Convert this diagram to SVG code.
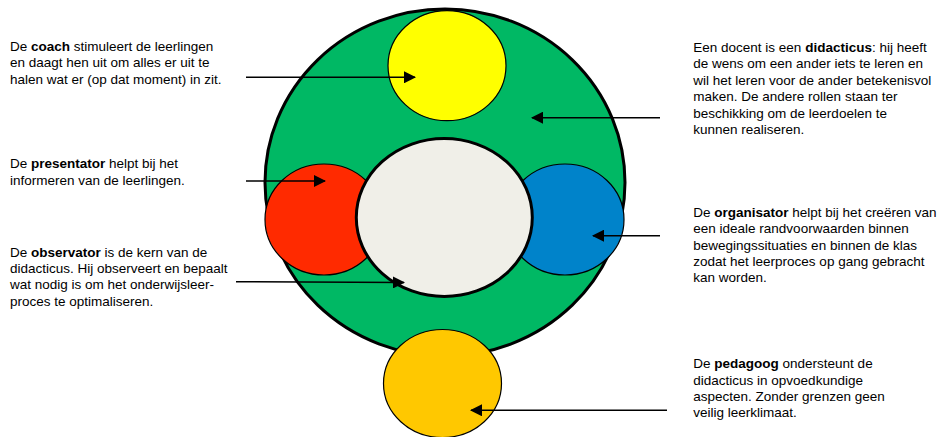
<svg xmlns="http://www.w3.org/2000/svg" width="940" height="437" viewBox="0 0 940 437">
<style>
text{font-family:"Liberation Sans",Arial,sans-serif;font-size:13.5px;fill:#000}
.b{font-weight:bold}
.c{stroke:#000;stroke-width:1.2}
.a{stroke:#000;stroke-width:1.6;fill:none;marker-end:url(#ah)}
</style>
<defs>
<marker id="ah" markerWidth="12" markerHeight="12" viewBox="0 0 12 12" refX="11" refY="6" orient="auto" markerUnits="userSpaceOnUse">
<path d="M0,0 L12,6 L0,12 Z" fill="#000"/>
</marker>
</defs>
<rect width="940" height="437" fill="#fff"/>
<g id="didacticus-circle"><ellipse cx="445" cy="182.5" rx="180" ry="173.5" fill="#00B864" stroke="#000" stroke-width="3"/></g>
<g id="coach-circle"><ellipse class="c" cx="447" cy="65.7" rx="59" ry="55" fill="#FFFF00"/></g>
<g id="presentator-circle"><ellipse class="c" cx="324" cy="219.5" rx="59" ry="55.5" fill="#FF2A00"/></g>
<g id="organisator-circle"><ellipse class="c" cx="565" cy="219.5" rx="59" ry="55.5" fill="#0083CA"/></g>
<g id="observator-circle"><ellipse cx="444.3" cy="217.5" rx="88" ry="79" fill="#F0EFE8" stroke="#000" stroke-width="3"/></g>
<g id="pedagoog-circle"><ellipse class="c" cx="442.5" cy="383.5" rx="59" ry="54" fill="#FFC800"/></g>
<g id="connectors">
<line class="a" x1="246" y1="77.3" x2="415" y2="77.3"/>
<line class="a" x1="660" y1="117.7" x2="532" y2="117.7"/>
<line class="a" x1="246" y1="181" x2="325" y2="181"/>
<line class="a" x1="660" y1="235.7" x2="593" y2="235.7"/>
<line class="a" x1="236" y1="281.7" x2="404" y2="282.5"/>
<line class="a" x1="667" y1="410.3" x2="471" y2="410.3"/>
</g>
<g id="coach-text">
<text x="10" y="50.7">De <tspan class="b">coach</tspan> stimuleert de leerlingen</text>
<text x="10" y="67.3">en daagt hen uit om alles er uit te</text>
<text x="10" y="84">halen wat er (op dat moment) in zit.</text>
</g>
<g id="presentator-text">
<text x="10" y="168.3">De <tspan class="b">presentator</tspan> helpt bij het</text>
<text x="10" y="185">informeren van de leerlingen.</text>
</g>
<g id="observator-text">
<text x="10" y="256.7">De <tspan class="b">observator</tspan> is de kern van de</text>
<text x="10" y="273">didacticus. Hij observeert en bepaalt</text>
<text x="10" y="289.3">wat nodig is om het onderwijsleer-</text>
<text x="10" y="305.7">proces te optimaliseren.</text>
</g>
<g id="didacticus-text">
<text x="693.3" y="51.7">Een docent is een <tspan class="b">didacticus</tspan>: hij heeft</text>
<text x="693.3" y="68">de wens om een ander iets te leren en</text>
<text x="693.3" y="84.5">wil het leren voor de ander betekenisvol</text>
<text x="693.3" y="101">maken. De andere rollen staan ter</text>
<text x="693.3" y="117.5">beschikking om de leerdoelen te</text>
<text x="693.3" y="134">kunnen realiseren.</text>
</g>
<g id="organisator-text">
<text x="693.3" y="216.7">De <tspan class="b">organisator</tspan> helpt bij het creëren van</text>
<text x="693.3" y="233.2">een ideale randvoorwaarden binnen</text>
<text x="693.3" y="249.6">bewegingssituaties en binnen de klas</text>
<text x="693.3" y="266">zodat het leerproces op gang gebracht</text>
<text x="693.3" y="282.3">kan worden.</text>
</g>
<g id="pedagoog-text">
<text x="693.3" y="368.3">De <tspan class="b">pedagoog</tspan> ondersteunt de</text>
<text x="693.3" y="384.5">didacticus in opvoedkundige</text>
<text x="693.3" y="400.7">aspecten. Zonder grenzen geen</text>
<text x="693.3" y="416.9">veilig leerklimaat.</text>
</g>
</svg>
